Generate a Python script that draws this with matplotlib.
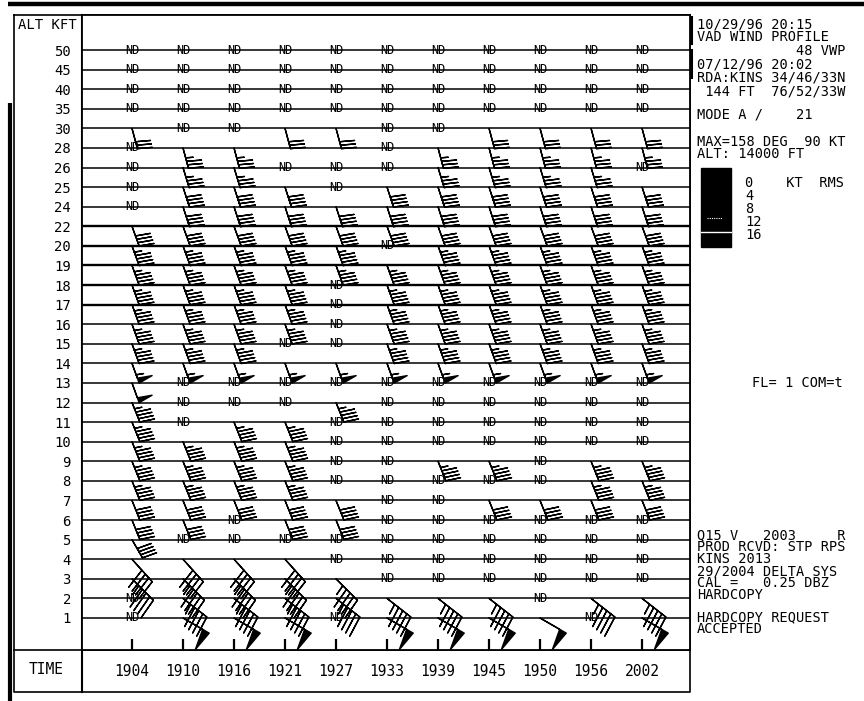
import numpy as np
import matplotlib.pyplot as plt
from matplotlib.patches import Rectangle

plt.rcParams['font.family'] = ['DejaVu Sans Mono', 'DejaVu Sans']

# time columns of the VAD wind profile
times = ['1904', '1910', '1916', '1921', '1927', '1933', '1939', '1945', '1950', '1956', '2002']

# altitude rows, kft, top to bottom
altitudes = ['50', '45', '40', '35', '30', '28', '26', '25', '24', '22', '20', '19', '18', '17',
             '16', '15', '14', '13', '12', '11', '10', '9', '8', '7', '6', '5', '4', '3', '2', '1']

# one string per time column, one char per altitude (top -> bottom)
# B = wind barb, N = "ND" (no data), . = nothing
cells = [
    'NNNN' 'B' 'NNNN' 'BBBBBBBBBBBBBBBBBBB' 'NN',        # 1904
    'NNNN' 'N' 'BBBBBBBBBBBB' 'NNN' 'BBBBB' 'N' 'BBBB',  # 1910
    'NNNN' 'N' 'BBBBBBBBBBBB' 'NN' 'BBBBB' 'NN' 'BBBB',  # 1916
    'NNNN' 'B.N' 'BBBBBBBB' 'NB' 'NN' 'BBBBBB' 'N' 'BBBB',  # 1921
    'NNNN' 'B.NN' 'BBBB' 'NNNN' 'BNB' 'NNNN' 'BB' 'NN' 'BBN',  # 1927
    'NNNN' 'NNN' 'BBB' 'N' 'BBBBBB' 'NNNNNNNNNNN' 'BB',  # 1933
    'NNNN' 'N' 'BBBBBB' 'BBBBBB' 'NNNN' 'B' 'NNNNNN' 'BB',  # 1939
    'NNNN' 'B' 'BBBBBB' 'BBBBBB' 'NNNN' 'BNB' 'NNNN' 'BB',  # 1945
    'NNNN' 'B' 'BBBBBB' 'BBBBBB' 'NNNNNN' 'B' 'NNNNN' 'B',  # 1950
    'NNNN' 'B' 'BBBBBB' 'BBBBBB' 'NNNN' 'BBB' 'NNNN' 'BN',  # 1956
    'NNNN' 'BBN' 'BBBB' 'BBBBBB' 'NNNN' 'BBB' 'NNNN' 'BB',  # 2002
]

# wind direction (deg, from) and speed (kt) per altitude row
wind_dir = [165, 165, 165, 165, 165, 165, 163, 162, 162, 160, 160, 160, 160, 160,
            160, 160, 160, 160, 158, 158, 158, 158, 158, 158, 158, 150, 138, 135, 128, 120]
wind_spd = [0, 0, 0, 0, 30, 35, 35, 40, 40, 40, 45, 45, 45, 45,
            45, 45, 55, 50, 45, 45, 45, 45, 45, 40, 40, 40, 40, 45, 45, 50]

ny = len(altitudes)
assert all(len(c) == ny for c in cells)

fig = plt.figure(figsize=(8.64, 7.01), dpi=100)

# background layer in pixel coordinates for frame and side text
bg = fig.add_axes([0, 0, 1, 1])
bg.set_xlim(0, 864)
bg.set_ylim(701, 0)
bg.axis('off')

bg.plot([8, 864], [4, 4], color='k', lw=3.2, solid_capstyle='butt')
bg.plot([10, 10], [103, 701], color='k', lw=3.0, solid_capstyle='butt')
bg.plot([14, 14, 690, 690, 14], [15, 692, 692, 15, 15], color='k', lw=1.2)
bg.plot([14, 690], [650, 650], color='k', lw=1.2)
bg.plot([82, 82], [15, 692], color='k', lw=1.5)
bg.plot([691, 691], [17, 43], color='k', lw=2.2)
bg.plot([691, 691], [50, 77], color='k', lw=2.2)
bg.text(18, 25, 'ALT KFT', fontsize=10, va='center', ha='left')
bg.text(46, 670, 'TIME', fontsize=10.5, va='center', ha='center')

fs = 9.8
bg.text(697, 17, '10/29/96 20:15\nVAD WIND PROFILE\n            48 VWP\n07/12/96 20:02\n'
        'RDA:KINS 34/46/33N\n 144 FT  76/52/33W', fontsize=fs, va='top', ha='left',
        linespacing=0.95)
bg.text(697, 115, 'MODE A /    21', fontsize=fs, va='center', ha='left')
bg.text(697, 135, 'MAX=158 DEG  90 KT\nALT: 14000 FT', fontsize=fs, va='top', ha='left',
        linespacing=0.84)
bg.text(752, 383, 'FL= 1 COM=t', fontsize=fs, va='center', ha='left')
bg.text(697, 528, 'Q15 V   2003     R\nPROD RCVD: STP RPS\nKINS 2013\n29/2004 DELTA SYS\n'
        'CAL =   0.25 DBZ\nHARDCOPY', fontsize=fs, va='top', ha='left', linespacing=0.82)
bg.text(697, 610, 'HARDCOPY REQUEST\nACCEPTED', fontsize=fs, va='top', ha='left',
        linespacing=0.84)

# RMS legend
rms_labels = ['0', '4', '8', '12', '16']
bg.add_patch(Rectangle((701, 168), 30, 79, color='k'))
bg.plot([701, 731], [232, 232], color='w', lw=1.0)
bg.plot([707, 722], [218, 218], color='w', lw=0.8, ls=(0, (1, 1)))
legend_txt = '\n'.join([rms_labels[0] + '    KT  RMS'] + rms_labels[1:])
bg.text(745, 176, legend_txt, fontsize=fs, va='top', ha='left', linespacing=0.9)

# main profile axes
ax = fig.add_axes([82 / 864, 1 - 650 / 701, 608 / 864, 635 / 701])
ax.set_xlim(-0.98, 10.94)
ax.set_ylim(-1.634, 30.787)
for sp in ax.spines.values():
    sp.set_linewidth(1.3)

yv = np.arange(ny)[::-1]
for k, y in enumerate(yv):
    heavy = altitudes[k] in ('22', '20', '19', '18', '17')
    ax.axhline(y, color='k', lw=1.7 if heavy else 1.1, zorder=1)

ax.set_yticks(yv)
ax.set_yticklabels(altitudes, fontsize=10)
ax.tick_params(axis='y', length=0, pad=8)
ax.set_xticks(range(len(times)))
ax.set_xticklabels(times, fontsize=10.5)
ax.tick_params(axis='x', direction='in', length=8, width=1.6, pad=10)

groups = {'hi': ([], [], [], []), 'lo': ([], [], [], [])}
for i, col in enumerate(cells):
    for k, c in enumerate(col):
        if c == 'N':
            ax.text(i, yv[k], 'ND', fontsize=8.5, ha='center', va='center', zorder=3)
        elif c == 'B':
            g = groups['lo' if int(altitudes[k]) <= 4 else 'hi']
            d = np.deg2rad(wind_dir[k])
            g[0].append(i)
            g[1].append(yv[k])
            g[2].append(-wind_spd[k] * np.sin(d))
            g[3].append(-wind_spd[k] * np.cos(d))

for key, L, flip in (('hi', 5.5, True), ('lo', 6.6, False)):
    x, y, u, v = groups[key]
    ax.barbs(x, y, u, v, length=L, pivot='tip', color='k', linewidth=1.0, flip_barb=flip,
             sizes=dict(spacing=0.17, height=0.7, width=0.25), zorder=4)

fig.savefig('out.png', dpi=100)
